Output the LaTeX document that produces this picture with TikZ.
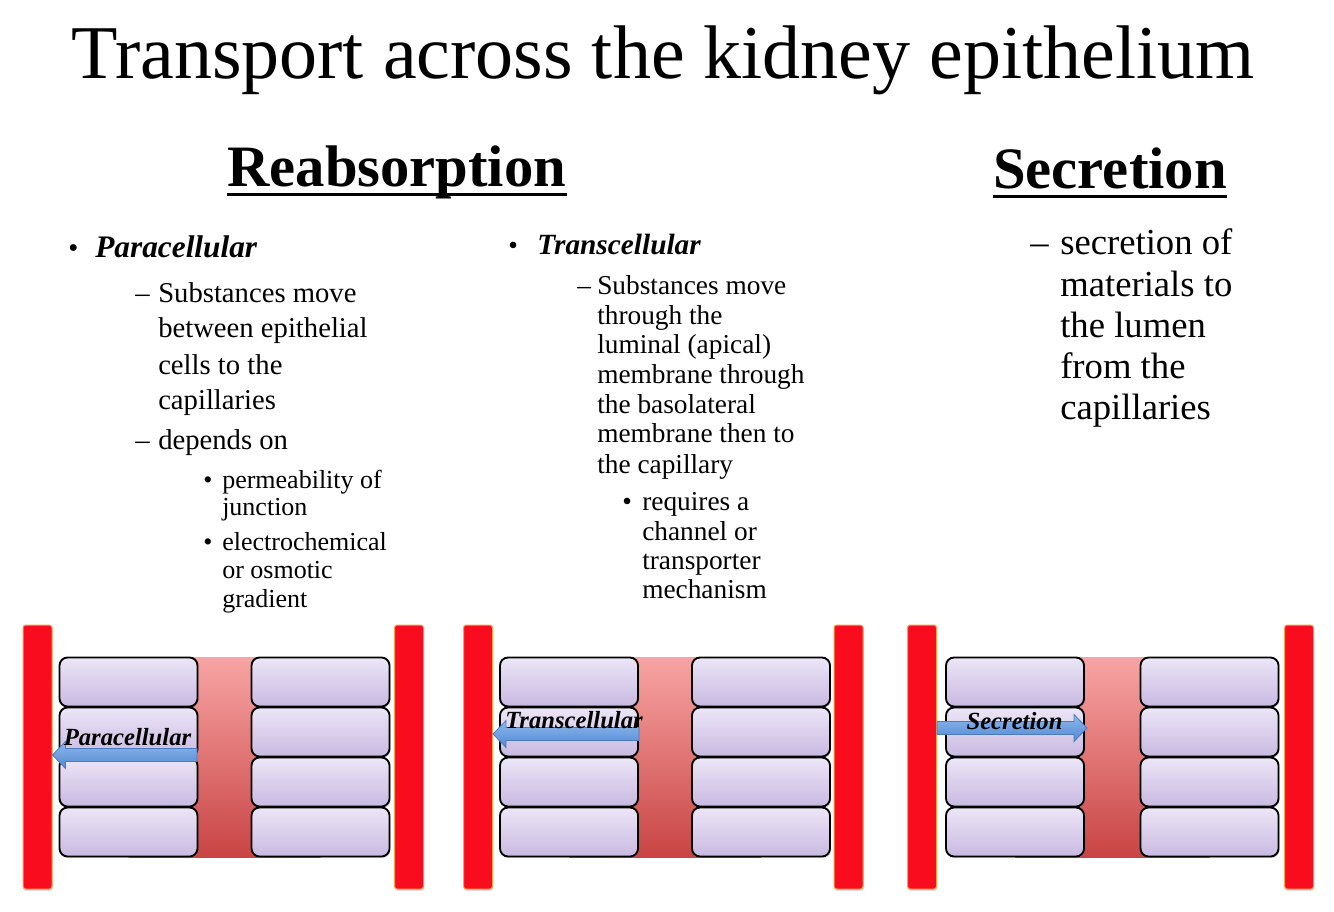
\documentclass[tikz,border=0pt]{standalone}
\usepackage{fontspec}
\setmainfont{Liberation Serif}
\usetikzlibrary{arrows.meta,shadows,calc}
\definecolor{cellTop}{HTML}{ECE6F7}
\definecolor{cellBot}{HTML}{C9B9E1}
\definecolor{chanTop}{HTML}{F8A4A4}
\definecolor{chanBot}{HTML}{C94444}
\definecolor{barRed}{HTML}{F90C1D}
\definecolor{barEdge}{HTML}{F4A24A}
\definecolor{flowTop}{HTML}{8DB8EC}
\definecolor{flowBot}{HTML}{5288D2}
\definecolor{flowEdge}{HTML}{4A7BC0}
\begin{document}
\begin{tikzpicture}[x=0.75pt,y=-0.75pt,
  titlestyle/.style={anchor=base,inner sep=0,font=\fontsize{57}{60}\selectfont},
  headstyle/.style={anchor=base west,inner sep=0,font=\fontsize{44}{48}\selectfont\bfseries},
  uline/.style={line width=2.25pt},
  pbi/.style={anchor=base west,inner sep=0,font=\fontsize{23.5}{26}\selectfont\bfseries\itshape},
  ptxt/.style={anchor=base west,inner sep=0,font=\fontsize{21.5}{24}\selectfont},
  psub/.style={anchor=base west,inner sep=0,font=\fontsize{19.5}{22}\selectfont},
  tbi/.style={anchor=base west,inner sep=0,font=\fontsize{22}{24}\selectfont\bfseries\itshape},
  ttxt/.style={anchor=base west,inner sep=0,font=\fontsize{20.5}{23}\selectfont},
  stxt/.style={anchor=base west,inner sep=0,font=\fontsize{27.5}{30}\selectfont},
  barbox/.style={draw=barEdge,line width=0.75pt,fill=barRed,rounded corners=2pt,
     minimum width=21.75pt,minimum height=198pt,inner sep=0,
     drop shadow={opacity=0.25,shadow xshift=0.5pt,shadow yshift=-1.5pt}},
  chanbox/.style={draw=none,top color=chanTop,bottom color=chanBot,
     minimum height=150pt,inner sep=0},
  cellbox/.style={draw=black,line width=1.4pt,rounded corners=6pt,
     top color=cellTop,bottom color=cellBot,
     minimum width=103.5pt,minimum height=36.75pt,inner sep=0,
     drop shadow={opacity=0.3,shadow xshift=0.8pt,shadow yshift=-1.2pt}},
  flowshape/.style={draw=flowEdge,line width=0.6pt,top color=flowTop,bottom color=flowBot,line join=miter},
  flowlabel/.style={anchor=base,inner sep=0,font=\fontsize{18.5}{20}\selectfont\bfseries\itshape}
]
\useasboundingbox (0,0) rectangle (1334,912);
\fill[white] (0,0) rectangle (1334,912);

% title and headings
\node[titlestyle] (title) at (663,79) {Transport across the kidney epithelium};
\node[headstyle] (reab) at (227,187) {Reabsorption};
\draw[uline] ([yshift=-6pt]reab.base west) -- ([yshift=-6pt]reab.base east);
\node[headstyle] (secr) at (993,189) {Secretion};
\draw[uline] ([yshift=-5.5pt]secr.base west) -- ([yshift=-5.5pt]secr.base east);

% paracellular text
\node[ptxt] (pbul) at (68,258) {•};
\node[pbi] (phead) at (95,258) {Paracellular};
\node[ptxt] (pd1) at (135,303) {–};
\foreach \t/\y [count=\i] in {Substances move/303,between epithelial/338,cells to the/375,capillaries/410}
  \node[ptxt] (pl\i) at (158,\y) {\t};
\node[ptxt] (pd2) at (135,450) {–};
\node[ptxt] (pl5) at (158,450) {depends on};
\node[psub] (psb1) at (203,488) {•};
\node[psub] (psb2) at (203,550) {•};
\foreach \t/\y [count=\i] in {permeability of/488,junction/515,electrochemical/550,or osmotic/578,gradient/607}
  \node[psub] (ps\i) at (222,\y) {\t};

% transcellular text
\node[ttxt] (tbul) at (508,255) {•};
\node[tbi] (thead) at (537,255) {Transcellular};
\node[ttxt] (td1) at (577,295) {–};
\foreach \t/\y [count=\i] in {Substances move/295,through the/325,luminal (apical)/354,membrane through/384,the basolateral/414,membrane then to/443,the capillary/473}
  \node[ttxt] (tl\i) at (597,\y) {\t};
\node[ttxt] (tsb) at (622,510) {•};
\foreach \t/\y [count=\i] in {requires a/510,channel or/540,transporter/569,mechanism/598}
  \node[ttxt] (ts\i) at (642,\y) {\t};

% secretion text
\node[stxt] (sd) at (1030,255) {–};
\foreach \t/\y [count=\i] in {secretion of/255,materials to/297,the lumen/338,from the/379,capillaries/420}
  \node[stxt] (sl\i) at (1060,\y) {\t};

% panels
\foreach \p/\bl/\cl/\cr/\br in {1/37.5/128.5/320.5/409,2/478/569/761/848.5,3/922/1015/1209.5/1299}{
  \node[barbox] (barL\p) at (\bl,757) {};
  \node[barbox] (barR\p) at (\br,757) {};
  \node[chanbox,minimum width={(\cr-\cl)*0.75pt}] (chan\p) at ({(\cl+\cr)/2},757) {};
  \foreach \r/\y in {a/682,b/732,c/782,d/832}{
    \node[cellbox] (cL\p\r) at (\cl,\y) {};
    \node[cellbox] (cR\p\r) at (\cr,\y) {};
  }
}

% flows (block arrows from the channel / to the capillary bar)
\coordinate (a1s) at (197,755);
\coordinate (a1t) at (barL1.east |- a1s);
\path[flowshape] ($(a1s)+(0,-6.5)$) -- ($(a1t)+(13,-6.5)$) -- ($(a1t)+(13,-13.5)$) -- (a1t)
  -- ($(a1t)+(13,13.5)$) -- ($(a1t)+(13,6.5)$) -- ($(a1s)+(0,6.5)$) -- cycle;
\node[flowlabel] (lab1) at (127.5,745) {Paracellular};

\coordinate (a2s) at (639,734);
\coordinate (a2t) at (barL2.east |- a2s);
\path[flowshape] ($(a2s)+(0,-6.5)$) -- ($(a2t)+(13,-6.5)$) -- ($(a2t)+(13,-13.5)$) -- (a2t)
  -- ($(a2t)+(13,13.5)$) -- ($(a2t)+(13,6.5)$) -- ($(a2s)+(0,6.5)$) -- cycle;
\node[flowlabel] (lab2) at (574,728) {Transcellular};

\coordinate (a3t) at (1087,728);
\coordinate (a3s) at (barL3.east |- a3t);
\path[flowshape] ($(a3s)+(0,-6.5)$) -- ($(a3t)+(-13,-6.5)$) -- ($(a3t)+(-13,-13.5)$) -- (a3t)
  -- ($(a3t)+(-13,13.5)$) -- ($(a3t)+(-13,6.5)$) -- ($(a3s)+(0,6.5)$) -- cycle;
\node[flowlabel] (lab3) at (1014.5,729) {Secretion};
\end{tikzpicture}
\end{document}
